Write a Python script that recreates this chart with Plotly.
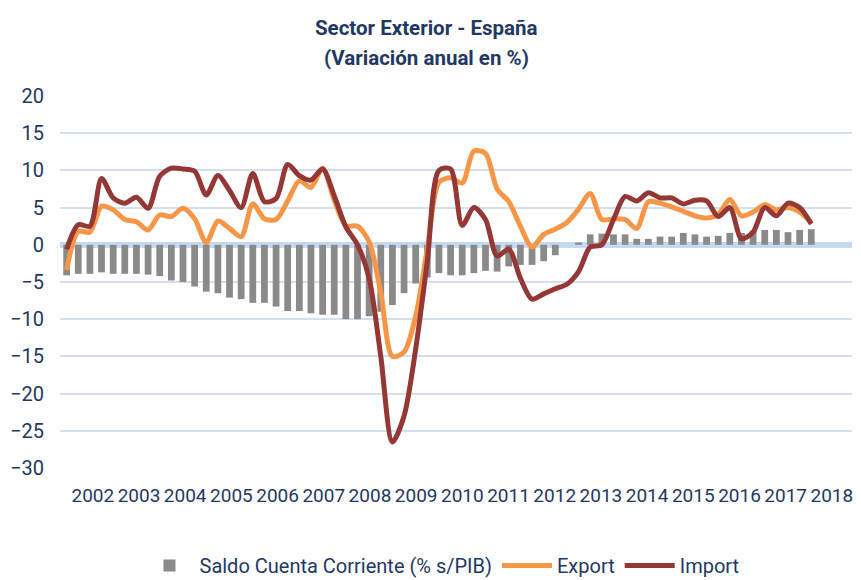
import plotly.graph_objects as go

# Quarterly periods 2002T1 .. 2018T1
quarters = [f"{y}T{q}" for y in range(2002, 2019) for q in range(1, 5)][:65]

saldo_cc = [-4.1, -3.9, -3.9, -3.7, -3.9, -3.9, -3.9, -4.0, -4.2, -4.8,
            -5.0, -5.6, -6.3, -6.5, -7.1, -7.3, -7.8, -7.8, -8.3, -8.9,
            -8.9, -9.2, -9.4, -9.4, -10.0, -10.0, -9.6, -9.0, -8.1, -6.5,
            -5.2, -4.4, -3.8, -4.1, -4.1, -3.8, -3.5, -3.6, -2.9, -2.7,
            -2.7, -2.2, -1.4, 0.0, 0.3, 1.4, 1.5, 1.4, 1.4, 0.8,
            0.8, 1.1, 1.1, 1.6, 1.4, 1.1, 1.2, 1.6, 1.6, 1.9,
            2.0, 2.0, 1.7, 2.0, 2.1]

export = [-3.4, 1.8, 1.7, 5.2, 4.7, 3.4, 3.1, 2.0, 4.0, 3.8,
          4.9, 3.5, 0.3, 3.2, 2.2, 1.1, 5.5, 3.5, 3.4, 5.9,
          8.6, 7.7, 10.3, 6.0, 2.6, 2.5, 0.4, -6.4, -15.0, -14.4,
          -9.6, -0.5, 8.4, 9.0, 8.3, 12.6, 12.3, 7.5, 5.8, 2.5,
          -0.3, 1.4, 2.1, 3.0, 4.8, 6.9, 3.4, 3.5, 3.4, 2.2,
          5.8, 5.6, 5.1, 4.5, 3.9, 3.6, 4.1, 6.1, 3.9, 4.4,
          5.4, 4.7, 5.0, 4.4, 3.0]

imports = [-0.6, 2.7, 2.5, 8.9, 6.3, 5.6, 6.4, 4.9, 9.2, 10.3,
           10.2, 9.9, 6.7, 9.3, 7.3, 5.0, 9.6, 5.8, 6.2, 10.8,
           9.3, 8.7, 10.2, 6.6, 2.4, 0.0, -4.5, -15.0, -26.5, -23.0,
           -14.0, -2.2, 10.0, 10.2, 2.6, 5.0, 3.4, -1.5, -0.6, -4.5,
           -7.3, -6.6, -5.9, -5.3, -3.6, -0.3, 0.0, 3.4, 6.5, 5.9,
           7.0, 6.3, 6.3, 5.5, 6.0, 5.9, 3.8, 5.0, 0.8, 1.7,
           5.0, 3.9, 5.6, 5.0, 2.8]

years = list(range(2002, 2019))
y_ticks = [20, 15, 10, 5, 0, -5, -10, -15, -20, -25, -30]

x_idx = list(range(len(quarters)))
year_pos = [2.25 + 3.97 * (y - 2002) for y in years]

TXT = "#1f3864"
FONT = "Roboto, sans-serif"

fig = go.Figure()
fig.add_trace(go.Bar(
    x=x_idx, y=saldo_cc, name="Saldo Cuenta Corriente (% s/PIB)",
    marker=dict(color="#8a8a8a", line=dict(width=0)), width=0.58,
    hovertext=quarters,
))
fig.add_trace(go.Scatter(
    x=x_idx, y=export, name="Export", mode="lines",
    line=dict(color="#f79646", width=5, shape="spline", smoothing=0.8),
    hovertext=quarters,
))
fig.add_trace(go.Scatter(
    x=x_idx, y=imports, name="Import", mode="lines",
    line=dict(color="#953735", width=5, shape="spline", smoothing=0.8),
    hovertext=quarters,
))

# page has an 8px body margin: figure coordinates are page coordinates - 8
tx = (426 - 60) / 792
fig.update_layout(
    width=853, height=572,
    margin=dict(l=52, r=9, t=88, b=111.5, autoexpand=False),
    paper_bgcolor="white", plot_bgcolor="white",
    font=dict(family=FONT, color=TXT, size=20),
    showlegend=True,
    legend=dict(orientation="h", x=(442 - 60) / 792, xanchor="center", y=-0.262, yanchor="middle",
                font=dict(size=20, color=TXT), itemwidth=50, traceorder="normal",
                bgcolor="rgba(0,0,0,0)"),
    annotations=[
        dict(text="<b>Sector Exterior - España</b>", x=tx, xref="paper", xanchor="center",
             y=1.1826, yref="paper", yanchor="middle", showarrow=False,
             font=dict(size=20.5, color=TXT, family=FONT)),
        dict(text="<b>(Variación anual en %)</b>", x=tx, xref="paper", xanchor="center",
             y=1.102, yref="paper", yanchor="middle", showarrow=False,
             font=dict(size=20.5, color=TXT, family=FONT)),
    ],
)

fig.update_xaxes(
    range=[-0.57, 67.5], tickmode="array", tickvals=year_pos,
    ticktext=[str(y) for y in years], tickangle=0, automargin=False,
    showgrid=False, zeroline=False, showline=False,
    ticks="outside", ticklen=10, tickcolor="rgba(0,0,0,0)",
    tickfont=dict(size=19, color=TXT),
)
fig.update_yaxes(
    range=[-30, 20], tickmode="array", tickvals=y_ticks, automargin=False,
    showgrid=True, gridcolor="#d3e0f0", gridwidth=1.5,
    zeroline=True, zerolinecolor="#c6d9f0", zerolinewidth=6,
    showline=False, ticks="outside", ticklen=11, tickcolor="rgba(0,0,0,0)",
    tickfont=dict(size=20, color=TXT),
)

fig.write_html("out.html")
